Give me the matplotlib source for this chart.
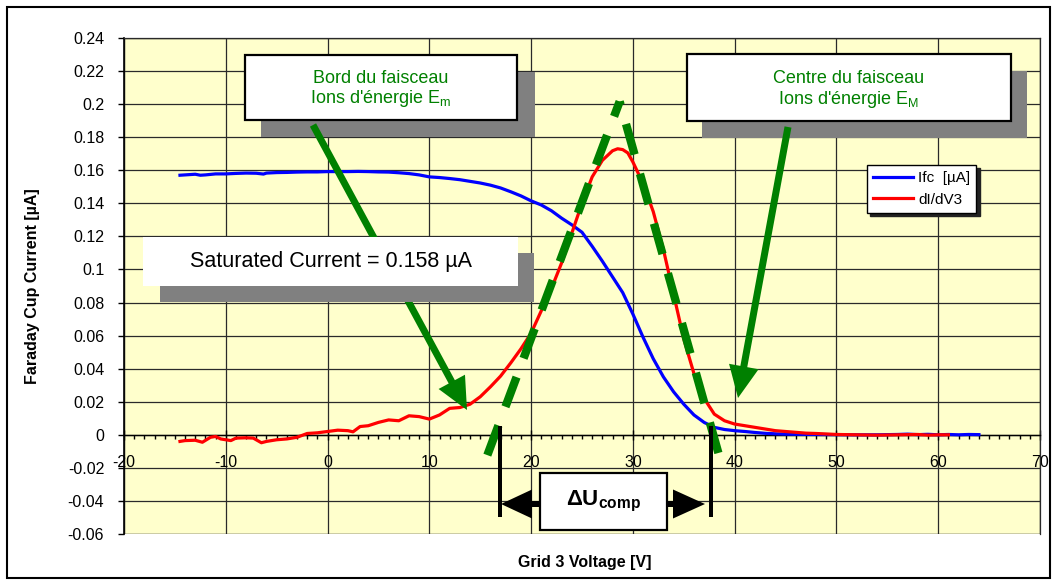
import matplotlib
matplotlib.use("Agg")
import matplotlib.pyplot as plt
from matplotlib.ticker import MultipleLocator, FuncFormatter
from matplotlib.patches import Rectangle, Polygon, FancyArrow
from matplotlib.transforms import IdentityTransform

plt.rcParams['font.family'] = ['Liberation Sans', 'DejaVu Sans']
plt.rcParams['mathtext.fontset'] = 'custom'
plt.rcParams['mathtext.rm'] = 'Liberation Sans'
plt.rcParams['mathtext.it'] = 'Liberation Sans:italic'
plt.rcParams['mathtext.bf'] = 'Liberation Sans:bold'

# ---------------- data ----------------
ifc_voltage = [-14.5, -14, -13, -12.5, -12, -11, -10, -9, -8, -7,
               -6.3, -6, -5, -4, -3, -2, -1, 0, 1, 2,
               3, 4, 5, 6, 7, 8, 9, 10, 11, 12,
               13, 14, 15, 16, 17, 18, 19, 20, 21, 22,
               23, 24, 25, 26, 27, 28, 29, 30, 31, 32,
               33, 34, 35, 36, 37, 38, 39, 40, 41, 42,
               43, 44, 45, 46, 48, 50, 52, 54, 56, 57,
               58, 59, 60, 61, 62, 63, 64]
ifc_current = [.1570, .1572, .1576, .1570, .1572, .1578, .1578, .1581, .1583, .1582,
               .1577, .1583, .1586, .1587, .1589, .1590, .1590, .1592, .1592, .1592,
               .1593, .1592, .1590, .1589, .1585, .1580, .1572, .1560, .1556, .1550,
               .1543, .1533, .1523, .1510, .1493, .1470, .1445, .1415, .1390, .1355,
               .1310, .1270, .1225, .1140, .1050, .0955, .0860, .0730, .0590, .0460,
               .0350, .0260, .0185, .0120, .0075, .0045, .0032, .0025, .0020, .0014,
               .0009, .0006, .0004, .0003, .0002, .0001, .0000, .0000, .0002, .0004,
               .0001, .0003, .0000, .0002, .0000, .0002, .0001]

didv_voltage = [-14.5, -14, -13, -12.3, -11.5, -11, -10.5, -9.5, -9, -8,
                -7.3, -6.5, -6, -5, -4, -3, -2, -1, 0, 1,
                2, 2.5, 3.2, 4, 5, 6, 7, 8, 9, 10,
                11, 12, 13, 14, 15, 16, 17, 18, 19, 20,
                21, 22, 23, 24, 25, 26, 27, 28, 28.5, 29,
                29.5, 30, 31, 32, 33, 34, 35, 36, 37, 38,
                39, 40, 41, 42, 43, 44, 45, 46, 47, 48,
                49, 50, 52, 54, 56, 58, 59, 60, 61]
didv_value = [-.0040, -.0035, -.0033, -.0045, -.0015, -.0010, -.0025, -.0035, -.0020, -.0018,
              -.0020, -.0048, -.0040, -.0030, -.0025, -.0015, .0008, .0012, .0020, .0028,
              .0025, .0018, .0050, .0055, .0075, .0090, .0085, .0115, .0110, .0095,
              .0120, .0160, .0165, .0185, .0230, .0290, .0355, .0435, .0520, .0615,
              .0750, .0885, .1040, .1220, .1400, .1560, .1660, .1718, .1730, .1725,
              .1705, .1650, .1520, .1350, .1120, .0850, .0580, .0370, .0220, .0125,
              .0085, .0065, .0055, .0045, .0035, .0025, .0020, .0015, .0010, .0008,
              .0005, .0002, .0000, -.0002, .0000, .0002, -.0002, .0000, .0000]

series_labels = ["Ifc  [µA]", "dI/dV3"]
x_label = "Grid 3 Voltage [V]"
y_label = "Faraday Cup Current [µA]"
box_bord = ["Bord du faisceau", "Ions d'énergie E$_{\\mathrm{m}}$"]
box_centre = ["Centre du faisceau", "Ions d'énergie E$_{\\mathrm{M}}$"]
box_sat = "Saturated Current = 0.158 µA"
box_du = "$\\mathbf{\u0394U}_{\\mathbf{comp}}$"

# tangent guide lines (data units) : left flank, apex, right flank
guide_v = [15.7, 28.7, 38.4]
guide_i = [-0.0123, 0.2016, -0.0110]

# ---------------- figure ----------------
W, H = 1056, 583
fig = plt.figure(figsize=(W / 100, H / 100), dpi=100)
fig.patch.set_facecolor('white')
L, R, T, B = 124, 1040, 38, 534
ax = fig.add_axes([L / W, 1 - B / H, (R - L) / W, (B - T) / H])
ax.set_facecolor('#FFFFCC')
ax.set_xlim(-20, 70)
ax.set_ylim(-0.06, 0.24)

GREEN = '#008000'
grid_c = '#2a2a2a'

ax.xaxis.set_major_locator(MultipleLocator(10))
ax.xaxis.set_minor_locator(MultipleLocator(1))
ax.yaxis.set_major_locator(MultipleLocator(0.02))
ax.grid(True, which='major', color=grid_c, lw=0.9)
ax.set_axisbelow(True)

def yfmt(v, p):
    if abs(v) < 1e-9:
        return "0"
    return f"{round(v, 2):g}"

ax.yaxis.set_major_formatter(FuncFormatter(yfmt))
ax.xaxis.set_major_formatter(FuncFormatter(lambda v, p: f"{int(round(v))}"))

ax.spines['bottom'].set_position(('data', 0))
ax.spines['bottom'].set_color('black')
ax.spines['bottom'].set_linewidth(1.0)
ax.spines['left'].set_color('black')
ax.spines['left'].set_linewidth(1.2)
for s in ('top', 'right'):
    ax.spines[s].set_color(grid_c)
    ax.spines[s].set_linewidth(0.9)
ax.add_patch(Rectangle((0, 0), 1, 1, transform=ax.transAxes, fill=False,
                       edgecolor=grid_c, lw=0.9, zorder=0.5))

ax.tick_params(axis='x', which='major', direction='inout', length=6.5, width=1,
               pad=11.5, labelsize=11.5, colors='black')
ax.tick_params(axis='x', which='minor', direction='out', length=3, width=1)
ax.tick_params(axis='y', which='major', direction='out', length=4.3, width=1,
               pad=10, labelsize=11.5)

ax.plot(ifc_voltage, ifc_current, color='#0000FF', lw=2.3, label=series_labels[0], zorder=3)
ax.plot(didv_voltage, didv_value, color='#FF0000', lw=2.3, label=series_labels[1], zorder=3)

# dashed tangents
for a, b in ((0, 1), (2, 1)):
    ax.plot([guide_v[a], guide_v[b]], [guide_i[a], guide_i[b]], color=GREEN,
            lw=6, ls=(0, (3.8, 2.4)), solid_capstyle='butt', dash_capstyle='butt',
            zorder=4, clip_on=False)

ax.set_xlabel(x_label, fontsize=11.5, fontweight='bold', va='center')
ax.xaxis.set_label_coords((585 - L) / (R - L), (B - 563) / (B - T))
ax.set_ylabel(y_label, fontsize=11.5, fontweight='bold', va='center')
ax.yaxis.set_label_coords((33 - L) / (R - L), 0.5)

leg = ax.legend(loc='upper left', bbox_to_anchor=((867 - L) / (R - L), (B - 165) / (B - T)),
                borderaxespad=0, fontsize=11, frameon=True, fancybox=False,
                edgecolor='black', framealpha=1, handlelength=2.6, handletextpad=0.35,
                labelspacing=0.5, borderpad=0.4,
                shadow={'ox': 2.5, 'oy': -2.5, 'color': '#222222', 'alpha': 1})
leg.get_frame().set_linewidth(1.0)
for ln in leg.get_lines():
    ln.set_linewidth(2.3)

# ---------------- annotations in pixel coords ----------------
ID = IdentityTransform()

def rect(x0, y0, x1, y1, z, **kw):
    p = Rectangle((x0, H - y1), x1 - x0, y1 - y0, transform=ID, zorder=z, **kw)
    fig.add_artist(p)

def poly(pts, z, **kw):
    p = Polygon([(x, H - y) for x, y in pts], closed=True, transform=ID, zorder=z, **kw)
    fig.add_artist(p)

def arrow(x0, y0, x1, y1, z):
    a = FancyArrow(x0, H - y0, x1 - x0, -(y1 - y0), width=7, head_width=30,
                   head_length=32, length_includes_head=True, color=GREEN,
                   lw=0, transform=ID, zorder=z)
    fig.add_artist(a)

def ptext(x, y, s, z, **kw):
    fig.text(x / W, 1 - y / H, s, zorder=z, **kw)

# Bord box
rect(261, 72, 535, 137, 10, facecolor='#808080', edgecolor='none')
rect(245, 55, 517, 120, 10.5, facecolor='white', edgecolor='black', lw=1.6)
ptext(381, 83, box_bord[0], 10.6, ha='center', va='baseline', fontsize=13, color=GREEN)
ptext(381, 103, box_bord[1], 10.6, ha='center', va='baseline', fontsize=13, color=GREEN)

# Centre box
rect(702, 71, 1027, 138, 10, facecolor='#808080', edgecolor='none')
rect(687, 54, 1011, 121, 10.5, facecolor='white', edgecolor='black', lw=1.6)
ptext(849, 83, box_centre[0], 10.6, ha='center', va='baseline', fontsize=13, color=GREEN)
ptext(849, 104, box_centre[1], 10.6, ha='center', va='baseline', fontsize=13, color=GREEN)

# green arrows
arrow(313, 125, 467, 410, 11)
arrow(788, 127, 738, 398, 11)

# Saturated current box
rect(160, 253, 534, 302, 12, facecolor='#808080', edgecolor='none')
rect(143, 237, 518, 286, 12.5, facecolor='white', edgecolor='none')
ptext(331, 267, box_sat, 12.6, ha='center', va='baseline', fontsize=15.5, color='black')

# Delta U compensation marker
rect(498, 426, 502, 517, 13, facecolor='black', edgecolor='none')
rect(709, 426, 713, 517, 13, facecolor='black', edgecolor='none')
poly([(501, 504), (532, 489.5), (532, 518.5)], 13, facecolor='black', edgecolor='none')
rect(531, 501, 541, 507, 13, facecolor='black', edgecolor='none')
poly([(705, 504), (673, 489.5), (673, 518.5)], 13, facecolor='black', edgecolor='none')
rect(666, 501, 674, 507, 13, facecolor='black', edgecolor='none')
rect(540, 473, 667, 530, 13.5, facecolor='white', edgecolor='black', lw=1.6)
ptext(603.5, 501, box_du, 13.6, ha='center', va='center', fontsize=16, color='black')

# outer chart border
rect(6.5, 6.5, 1049.5, 577.5, 20, fill=False, edgecolor='black', lw=1.5)

fig.savefig('out.png', dpi=100)
